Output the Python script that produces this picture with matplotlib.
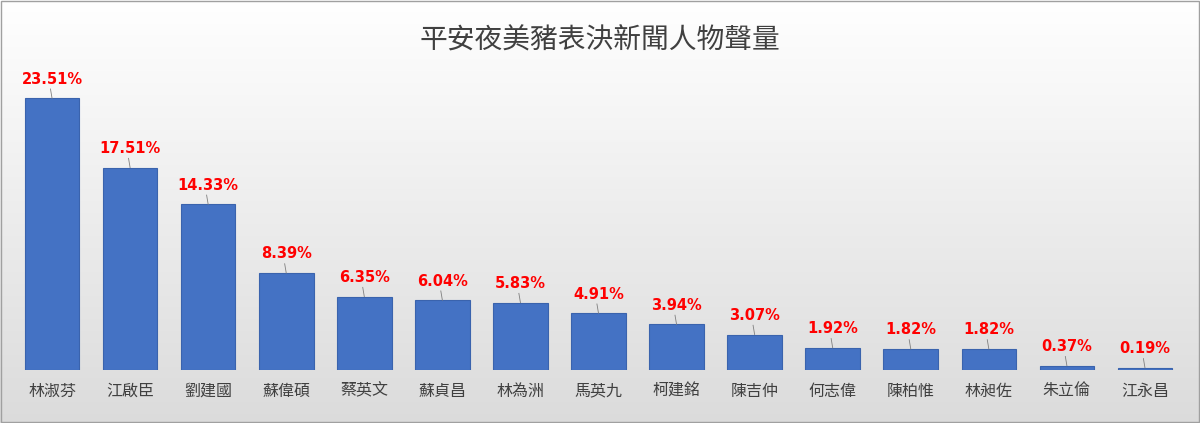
import matplotlib
matplotlib.use("Agg")
import matplotlib.pyplot as plt
import numpy as np

plt.rcParams['font.family'] = ['Noto Sans CJK TC', 'DejaVu Sans']

names = ["林淑芬","江啟臣","劉建國","蘇偉碩","蔡英文","蘇貞昌","林為洲","馬英九","柯建銘","陳吉仲","何志偉","陳柏惟","林昶佐","朱立倫","江永昌"]
values = [23.51,17.51,14.33,8.39,6.35,6.04,5.83,4.91,3.94,3.07,1.92,1.82,1.82,0.37,0.19]
title = "平安夜美豬表決新聞人物聲量"

fig = plt.figure(figsize=(12, 4.23), dpi=100)
bg = fig.add_axes([0, 0, 1, 1])
grad = np.linspace(1.0, 0.86, 256).reshape(-1, 1)
bg.imshow(np.dstack([grad, grad, grad]), aspect='auto', extent=[0, 1, 0, 1], origin='upper')
bg.set_xlim(0, 1); bg.set_ylim(0, 1); bg.axis('off')
bg.add_patch(plt.Rectangle((0.001, 0.002), 0.998, 0.996, fill=False, ec='#a0a0a0', lw=1))

ax = fig.add_axes([13/1200, 53/423, 1171/1200, 289/423])
ax.set_facecolor('none')
x = np.arange(len(names))
ax.bar(x, values, width=0.7, color='#4472C4', edgecolor='#3a63ad', linewidth=0.8, zorder=3)
for xi, v in zip(x, values):
    ax.plot([xi, xi-0.02], [v, v+0.8], color='#7f7f7f', lw=0.6, zorder=4)
    ax.text(xi, v + 1.0, f"{v:.2f}%", ha='center', va='bottom', color='red',
            fontsize=10.5, fontweight='bold', family=['DejaVu Sans'])
ax.set_xlim(-0.5, len(names) - 0.5)
ax.set_ylim(0, 25)
ax.set_xticks(x)
ax.set_xticklabels(names, fontsize=11.5, color='#404040')
ax.tick_params(axis='x', length=0, pad=9)
ax.set_yticks([])
for s in ax.spines.values():
    s.set_visible(False)
fig.text(0.5, 0.905, title, ha='center', va='center', fontsize=20, color='#404040')
fig.savefig('out.png', dpi=100)
